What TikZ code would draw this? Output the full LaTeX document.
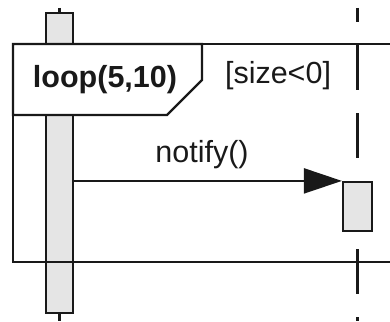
\documentclass[tikz,border=0pt]{standalone}
\usepackage{fontspec}
\setmainfont{Liberation Sans}
\usetikzlibrary{arrows.meta, positioning, calc}

\begin{document}
\begin{tikzpicture}[
    x=1pt, y=-1pt,
    font=\fontsize{30.5}{36}\selectfont,
    line/.style={draw=black!90, line width=2.2pt},
    actbar/.style={line, rectangle, fill=black!10, minimum width=27pt, inner sep=0pt},
    lifeline/.style={line, dash pattern=on 45pt off 23pt, dash phase=31pt},
    frametag/.style={line, fill=white, line join=miter},
    msg/.style={line, -{Triangle[length=38pt, width=25pt]}},
    txt/.style={inner sep=0pt, text=black!90}
  ]
    \useasboundingbox (0,0) rectangle (390,321);
    % lifelines
    \coordinate (srctop) at (59.5,8);
    \coordinate (srcend) at (59.5,321);
    \coordinate (dsttop) at (357.5,8);
    \coordinate (dstend) at (357.5,321);
    \draw[lifeline] (dsttop) -- (dstend);
    \node[actbar, minimum height=300pt] (srcbar) at (59.5,163) {};
    \draw[line] (srctop) -- (srcbar.north);
    \draw[line] (srcbar.south) -- (srcend);
    % combined fragment
    \draw[line] (390,44) -- (13,44) -- (13,262) -- (390,262);
    \draw[frametag] (13,44) -- (202,44) -- (202,80) -- (167,115) -- (13,115) -- cycle;
    \node[txt, font=\fontsize{30.5}{36}\selectfont\bfseries] (looplbl) at (105,80) {loop(5,10)};
    \node[txt] (guard) at (278,76) {[size<0]};
    % message
    \node[actbar, minimum width=29pt, minimum height=49pt] (dstbar) at (357.5,206.5) {};
    \draw[msg] (dstbar.north west -| srcbar.east) -- (dstbar.north west);
    \node[txt] (msglbl) at (202,155) {notify()};
\end{tikzpicture}
\end{document}
